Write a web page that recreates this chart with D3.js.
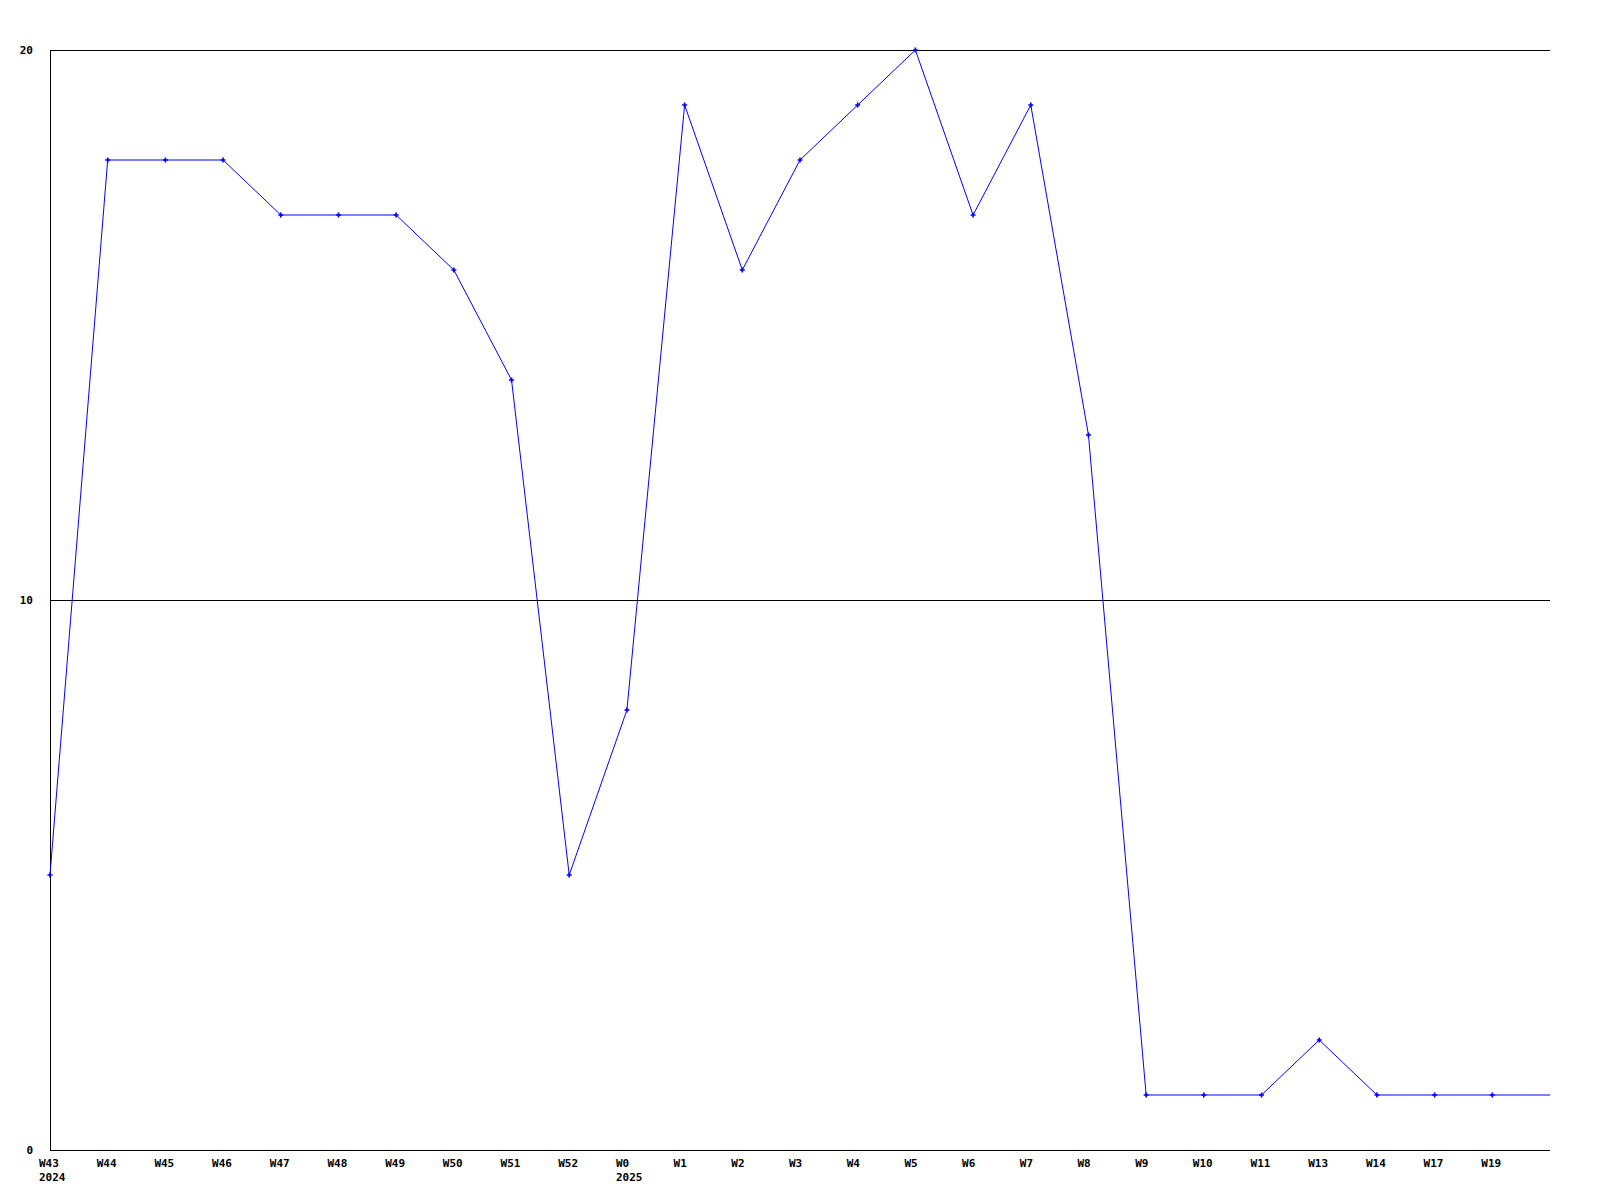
<!DOCTYPE html>
<html><head><meta charset="utf-8">
<script src="https://cdn.jsdelivr.net/npm/d3@7"></script>
<style>body{margin:0;background:#fff}svg{display:block}text{font-family:"DejaVu Sans Mono",monospace;font-weight:bold;font-size:11px;fill:#000}</style>
</head><body>
<script>
const weeks = ["W43","W44","W45","W46","W47","W48","W49","W50","W51","W52","W0","W1","W2","W3","W4","W5","W6","W7","W8","W9","W10","W11","W13","W14","W17","W19"];
const years = {"W43":"2024","W0":"2025"};
const values = [5,18,18,18,17,17,17,16,14,5,8,19,16,18,19,20,17,19,13,1,1,1,2,1,1,1];
const yTicks = [0,10,20];

const W=1600,H=1200;
const svg=d3.select("body").append("svg").attr("width",W).attr("height",H);
const x=d3.scaleLinear().domain([0,weeks.length]).range([50,1550]);
const y=d3.scaleLinear().domain([0,20]).range([1150,50]);

svg.selectAll("line.grid").data(yTicks.filter(d=>d>0)).enter().append("line")
 .attr("x1",x(0)).attr("x2",x(weeks.length)).attr("y1",d=>y(d)+0.5).attr("y2",d=>y(d)+0.5)
 .attr("stroke","#000").attr("stroke-width",1);
svg.append("line").attr("x1",x(0)+0.5).attr("x2",x(0)+0.5).attr("y1",y(20)).attr("y2",y(0)+0.5).attr("stroke","#000");
svg.append("line").attr("x1",x(0)).attr("x2",x(weeks.length)).attr("y1",y(0)+0.5).attr("y2",y(0)+0.5).attr("stroke","#000");

svg.selectAll("text.yl").data(yTicks).enter().append("text")
 .attr("x",33).attr("y",d=>y(d)+4).attr("text-anchor","end").text(d=>d);

svg.selectAll("text.xl").data(weeks).enter().append("text")
 .attr("x",(d,i)=>x(i)-11).attr("y",1167).text(d=>d);
svg.selectAll("text.yr").data(weeks.filter(w=>years[w])).enter().append("text")
 .attr("x",d=>x(weeks.indexOf(d))-11).attr("y",1181).text(d=>years[d]);

const pts=values.map((v,i)=>[i,v]);
const linePts=pts.concat([[weeks.length,values[values.length-1]]]);
svg.append("path").datum(linePts)
 .attr("d",d3.line().x(d=>x(d[0])).y(d=>y(d[1])))
 .attr("fill","none").attr("stroke","#0000ff").attr("stroke-width",1);
svg.selectAll("path.m").data(pts).enter().append("path")
 .attr("d",d3.symbol().type(d3.symbolCross).size(14))
 .attr("transform",d=>`translate(${x(d[0])},${y(d[1])})`)
 .attr("fill","#0000ff");
</script>
</body></html>
